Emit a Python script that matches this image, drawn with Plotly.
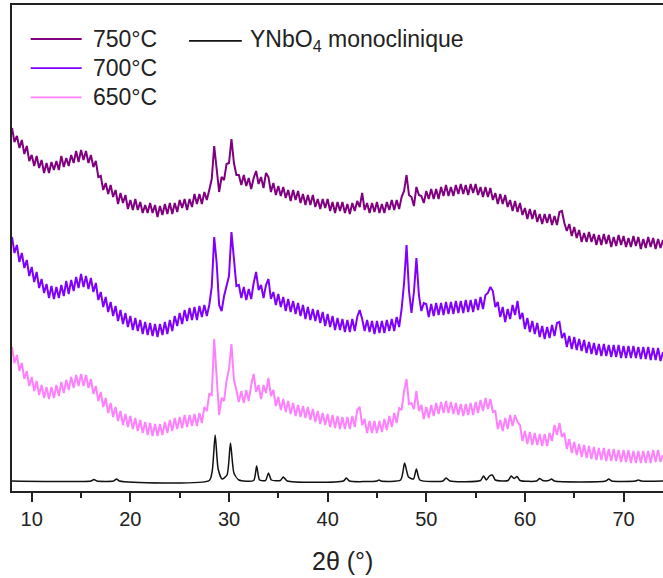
import plotly.graph_objects as go

# 2-theta grid start/step for the measured patterns (degrees)
theta_start = 8.0
theta_step = 0.25

# Intensities (arbitrary units, offset stacking), one row per degree
i_750 = [
    363, 349, 355, 343,
    351, 337, 345, 330,
    336, 325, 335, 323,
    331, 318, 328, 318,
    329, 321, 330, 321,
    335, 324, 333, 325,
    336, 328, 340, 329,
    341, 331, 340, 328,
    336, 324, 330, 314,
    315, 301, 308, 297,
    306, 294, 301, 287,
    298, 288, 296, 282,
    291, 281, 292, 281,
    289, 278, 286, 278,
    288, 278, 286, 274,
    285, 276, 287, 277,
    288, 277, 288, 279,
    291, 283, 292, 281,
    292, 284, 297, 287,
    297, 287, 299, 291,
    301, 312, 345, 322,
    299, 314, 311, 327,
    328, 352, 328, 316,
    316, 306, 316, 305,
    313, 302, 313, 320,
    307, 314, 303, 318,
    314, 299, 308, 296,
    305, 295, 304, 293,
    301, 290, 301, 291,
    300, 288, 297, 286,
    296, 286, 296, 284,
    292, 282, 292, 283,
    292, 280, 289, 278,
    289, 280, 289, 278,
    287, 277, 288, 280,
    290, 284, 298, 281,
    288, 278, 288, 279,
    289, 278, 287, 278,
    289, 281, 291, 281,
    291, 282, 294, 300,
    316, 296, 294, 285,
    304, 296, 295, 288,
    300, 292, 302, 292,
    302, 292, 304, 295,
    306, 295, 304, 295,
    306, 297, 307, 297,
    306, 296, 307, 298,
    307, 296, 304, 294,
    304, 294, 303, 291,
    298, 287, 297, 287,
    296, 284, 291, 280,
    290, 279, 288, 276,
    283, 272, 282, 272,
    281, 269, 277, 267,
    277, 268, 277, 266,
    275, 266, 279, 280,
    268, 260, 267, 255,
    264, 253, 261, 249,
    258, 249, 259, 249,
    257, 246, 256, 246,
    257, 247, 256, 244,
    254, 245, 256, 246,
    255, 244, 253, 244,
    255, 245, 254, 242,
    252, 243, 254, 244,
    253, 242, 252, 243,
    251,
]

i_700 = [
    254, 238, 246, 229,
    238, 223, 231, 215,
    224, 209, 219, 203,
    212, 198, 207, 193,
    205, 192, 204, 193,
    206, 195, 210, 197,
    211, 200, 214, 203,
    217, 204, 215, 202,
    213, 199, 208, 191,
    199, 184, 194, 179,
    189, 175, 185, 170,
    181, 167, 178, 164,
    175, 161, 173, 160,
    171, 157, 169, 156,
    168, 155, 167, 154,
    167, 156, 169, 157,
    171, 160, 175, 165,
    178, 167, 181, 170,
    183, 171, 184, 171,
    185, 174, 186, 175,
    186, 204, 254, 228,
    186, 180, 195, 205,
    215, 259, 233, 205,
    206, 193, 204, 191,
    202, 192, 208, 219,
    201, 206, 193, 206,
    212, 192, 199, 186,
    197, 184, 194, 180,
    192, 179, 190, 177,
    188, 175, 186, 172,
    184, 171, 182, 170,
    181, 168, 179, 165,
    177, 164, 175, 161,
    173, 161, 172, 159,
    171, 159, 172, 160,
    174, 181, 172, 160,
    171, 159, 170, 157,
    170, 158, 170, 158,
    171, 160, 172, 160,
    174, 164, 182, 208,
    246, 200, 178, 199,
    233, 196, 180, 188,
    187, 174, 187, 175,
    188, 176, 188, 176,
    189, 177, 189, 177,
    190, 178, 190, 178,
    191, 179, 191, 179,
    192, 181, 194, 182,
    196, 198, 204, 200,
    184, 189, 174, 184,
    169, 182, 172, 186,
    176, 190, 172, 178,
    162, 173, 159, 170,
    157, 168, 154, 165,
    152, 164, 153, 166,
    155, 168, 169, 153,
    158, 144, 155, 142,
    154, 141, 152, 140,
    151, 138, 149, 137,
    148, 136, 147, 135,
    147, 135, 146, 134,
    146, 134, 146, 133,
    145, 133, 145, 133,
    145, 133, 144, 132,
    144, 132, 144, 131,
    143, 131, 143, 130,
    139,
]

i_650 = [
    144, 128, 136, 120,
    128, 112, 120, 105,
    114, 100, 110, 96,
    106, 93, 104, 92,
    104, 93, 106, 95,
    109, 98, 111, 101,
    114, 103, 116, 105,
    117, 105, 116, 103,
    112, 97, 105, 90,
    99, 84, 93, 78,
    88, 74, 84, 70,
    80, 66, 77, 64,
    75, 62, 73, 60,
    71, 58, 69, 56,
    68, 55, 67, 55,
    67, 56, 69, 58,
    71, 60, 73, 62,
    74, 63, 76, 64,
    76, 65, 77, 65,
    78, 68, 84, 80,
    97, 96, 152, 112,
    76, 93, 90, 110,
    122, 147, 111, 101,
    89, 100, 88, 101,
    90, 106, 117, 99,
    106, 92, 106, 98,
    113, 95, 101, 85,
    94, 81, 92, 79,
    90, 77, 88, 75,
    86, 74, 85, 73,
    84, 71, 82, 69,
    80, 67, 78, 66,
    77, 64, 76, 63,
    75, 62, 74, 62,
    74, 62, 75, 64,
    81, 84, 66, 72,
    58, 70, 58, 70,
    58, 70, 59, 72,
    61, 75, 64, 78,
    68, 83, 81, 100,
    112, 87, 88, 82,
    100, 80, 86, 72,
    84, 73, 86, 75,
    88, 77, 89, 78,
    90, 78, 89, 77,
    88, 76, 87, 75,
    87, 76, 88, 76,
    89, 78, 91, 80,
    93, 82, 92, 79,
    80, 62, 71, 60,
    73, 62, 76, 65,
    76, 69, 66, 50,
    60, 47, 59, 46,
    58, 46, 57, 45,
    57, 45, 58, 50,
    66, 56, 68, 54,
    58, 42, 52, 38,
    49, 36, 47, 34,
    46, 33, 45, 32,
    44, 31, 43, 31,
    43, 30, 42, 30,
    42, 30, 41, 29,
    41, 29, 41, 28,
    40, 28, 40, 28,
    40, 28, 40, 28,
    41, 29, 41, 29,
    36,
]

# Reference pattern (YNbO4 monoclinic)
ref_theta = [8.0, 16.0, 16.3, 16.6, 18.3, 18.6, 18.9, 28.0, 28.3, 28.6, 28.9, 29.3, 29.8,
             30.15, 30.5, 31.0, 32.5, 32.8, 33.1, 33.7, 34.0, 34.3, 35.2, 35.5, 35.9,
             41.6, 41.9, 42.2, 45.0, 45.2, 45.4, 47.4, 47.8, 48.2, 48.7, 49.0, 49.35,
             51.7, 52.0, 52.4, 55.5, 55.8, 56.1, 56.4, 56.7, 57.0, 58.3, 58.6, 58.9,
             59.2, 59.5, 61.2, 61.5, 61.8, 62.4, 62.7, 63.0, 68.2, 68.5, 68.8, 71.2,
             71.5, 71.8, 74.0]
ref_int = [10, 10, 11.5, 10, 10, 12, 10, 10.5, 20, 56, 22, 12, 16,
           48, 18, 11, 10.5, 25, 11, 10.5, 18, 11, 10.5, 14, 10,
           10, 13, 10, 10, 11, 10, 11, 28, 14, 12, 22, 11,
           10, 13, 10, 10.5, 15, 11, 15, 16, 11, 10.5, 15, 12.5,
           14.5, 10.5, 10, 12.5, 10.5, 10.5, 12, 10, 10, 12, 10, 10,
           11, 10, 10]

series_names = ["750°C", "700°C", "650°C"]
series_colors = ["#800080", "#8000FF", "#FF80FF"]
ref_name = "YNbO<sub>4</sub> monoclinique"
ref_color = "#111111"

x_ticks = [10, 20, 30, 40, 50, 60, 70]

fig = go.Figure()
for vals, col in zip([i_650, i_700, i_750], [series_colors[2], series_colors[1], series_colors[0]]):
    th = [theta_start + theta_step * i for i in range(len(vals))]
    fig.add_trace(go.Scatter(x=th, y=vals, mode="lines",
                             line=dict(color=col, width=2.0), showlegend=False))
fig.add_trace(go.Scatter(x=ref_theta, y=ref_int, mode="lines",
                         line=dict(color=ref_color, width=1.5, shape="spline", smoothing=0.6),
                         showlegend=False))

FONT = "Liberation Sans, Arial, sans-serif"

fig.update_layout(
    width=663, height=578,
    margin=dict(l=12, r=0, t=5, b=87),
    paper_bgcolor="white", plot_bgcolor="white",
    font=dict(family=FONT, color="#222222"),
    xaxis=dict(range=[8, 74], tickvals=x_ticks, ticks="outside", ticklen=9, tickwidth=1.5,
               tickcolor="#222222", showline=True, linewidth=1.5, linecolor="#222222",
               mirror=True, showgrid=False, zeroline=False,
               tickfont=dict(size=20, family=FONT, color="#222222"),
               minor=dict(dtick=5, tick0=5, ticks="outside", ticklen=5, tickwidth=1.5,
                          tickcolor="#222222", showgrid=False)),
    yaxis=dict(range=[0, 486], showline=True, linewidth=1.5, linecolor="#222222",
               showticklabels=False, ticks="", showgrid=False, zeroline=False),
)

# axis title
fig.add_annotation(text="2θ (°)", x=0.508, y=-0.144, xref="paper", yref="paper",
                   showarrow=False, xanchor="center", yanchor="middle",
                   font=dict(size=25, family=FONT, color="#222222"))

# legend (drawn manually to match the two-column layout)
legend_items = [
    (series_names[0], series_colors[0], 0.0287, 0.107, 0.930, 0.121),
    (series_names[1], series_colors[1], 0.0287, 0.107, 0.870, 0.121),
    (series_names[2], series_colors[2], 0.0287, 0.107, 0.810, 0.121),
    (ref_name, ref_color, 0.272, 0.353, 0.926, 0.3625),
]
for name, col, x0, x1, yy, xt in legend_items:
    fig.add_shape(type="line", xref="paper", yref="paper", x0=x0, x1=x1, y0=yy, y1=yy,
                  line=dict(color=col, width=1.8))
    fig.add_annotation(text=name, x=xt, y=yy, xref="paper", yref="paper", showarrow=False,
                       xanchor="left", yanchor="middle",
                       font=dict(size=23, family=FONT, color="#222222"))

fig.write_html("out.html", config={"displayModeBar": False},
               post_script="document.body.style.margin='0px';")
